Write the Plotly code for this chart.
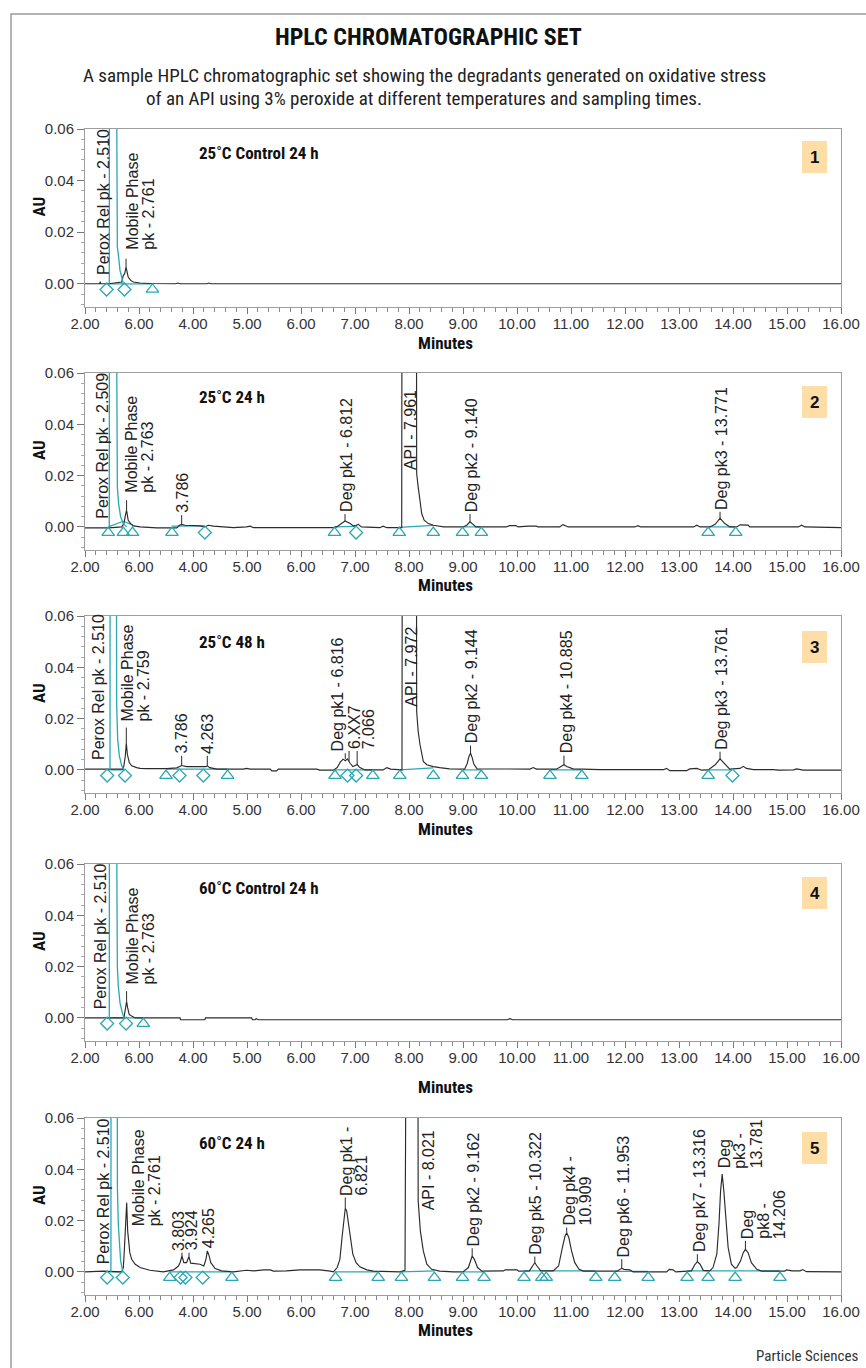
import plotly.graph_objects as go

W, H = 866, 1368

# ---------------- DATA ----------------
x_tick_vals = [2, 3, 4, 5, 6, 7, 8, 9, 10, 11, 12, 13, 14, 15, 16]
x_tick_text = ["2.00", "6.00", "4.00", "5.00", "6.00", "7.00", "8.00", "9.00",
               "10.00", "11.00", "12.00", "13.00", "14.00", "15.00", "16.00"]
y_tick_vals = [0.0, 0.02, 0.04, 0.06]
y_tick_text = ["0.00", "0.02", "0.04", "0.06"]

panel_titles = ["25˚C Control 24 h", "25˚C 24 h", "25˚C 48 h", "60˚C Control 24 h", "60˚C 24 h"]
panel_numbers = ["1", "2", "3", "4", "5"]

# chromatogram traces: (minutes, AU)
p1_trace = [(2.00, 0), (2.27, 0), (2.28, 0.0008), (2.29, 0), (2.44, 0), (2.68, 0.0007), (2.71, 0.0033),
            (2.735, 0.0039), (2.76, 0.0065), (2.78, 0.0039), (2.80, 0.0026), (2.846, 0.0013), (2.895, 0.0007),
            (3.02, 0.0003), (3.20, 0.0001), (3.68, 0), (3.72, 0.0003), (3.76, 0), (4.26, 0), (4.29, 0.0003),
            (4.33, 0), (16.00, 0)]
p2_trace = [(2.00, -0.0004), (2.34, -0.0004), (2.44, -0.0004), (2.68, 0), (2.72, 0.0013), (2.755, 0.0052),
            (2.77, 0.0065), (2.80, 0.0026), (2.846, 0.0013), (2.895, 0.0004), (3.02, 0), (3.33, -0.0004),
            (3.70, -0.0004), (3.75, 0.00065), (3.79, 0.001), (3.85, 0.00065), (4.13, 0.0004), (4.22, 0),
            (4.28, 0.00065), (4.38, 0.0003), (4.75, -0.0003), (4.99, 0), (5.06, 0.0003), (5.12, -0.0003),
            (6.60, -0.0003), (6.66, 0), (6.72, 0.001), (6.815, 0.0023), (6.91, 0.0013), (6.97, 0.0004),
            (7.02, 0.0006), (7.06, 0.001), (7.12, 0), (7.46, -0.0003), (7.52, 0.0003), (7.59, -0.0003),
            (7.865, -0.0003), (7.87, 0.09), (8.138, 0.09), (8.142, 0.0208), (8.17, 0.0156), (8.204, 0.009),
            (8.235, 0.0052), (8.28, 0.0026), (8.36, 0.0013), (8.45, 0.00065), (8.51, 0.0004), (8.64, 0),
            (9.00, 0), (9.07, 0.00065), (9.13, 0.002), (9.18, 0.001), (9.24, 0), (9.80, 0), (9.86, 0.0005),
            (9.98, 0.0005), (10.02, 0), (10.21, 0.0003), (10.36, 0.0003), (10.39, 0), (10.79, 0),
            (10.85, 0.0009), (10.95, 0), (12.18, 0), (12.24, 0.0005), (12.29, 0), (13.27, 0), (13.33, 0.00065),
            (13.39, 0), (13.57, 0), (13.67, 0.001), (13.76, 0.0033), (13.85, 0.0013), (13.94, 0), (14.07, 0),
            (14.13, 0.0008), (14.28, 0.0007), (14.31, 0), (15.21, 0), (15.27, 0.00065), (15.33, 0),
            (16.00, -0.0003)]
p3_trace = [(2.00, 0.0003), (2.44, 0.0003), (2.70, 0.0003), (2.72, 0.0016), (2.747, 0.0055), (2.765, 0.0105),
            (2.784, 0.0061), (2.82, 0.0029), (2.864, 0.0016), (2.957, 0.0009), (3.02, 0.0006), (3.14, 0.0005),
            (3.51, 0.0005), (3.70, 0.0008), (3.76, 0.0014), (3.79, 0.0017), (3.88, 0.0013), (4.13, 0.0012),
            (4.24, 0.0013), (4.265, 0.0016), (4.31, 0.0009), (4.44, 0.0003), (4.93, 0.0003), (4.99, 0.0006),
            (5.06, 0.0003), (5.43, 0.0003), (5.46, -0.0004), (5.55, -0.0004), (5.58, 0.0003), (6.29, 0.0003),
            (6.35, -0.0001), (6.60, -0.0001), (6.67, 0.0009), (6.73, 0.0031), (6.78, 0.0042), (6.82, 0.0036),
            (6.86, 0.0043), (6.91, 0.0026), (6.96, 0.0013), (7.006, 0.0017), (7.04, 0.0021), (7.09, 0.0009),
            (7.185, 0), (7.52, 0), (7.59, 0.0009), (7.66, 0.0003), (7.87, 0), (7.875, 0.09), (8.138, 0.09),
            (8.142, 0.0228), (8.17, 0.015), (8.204, 0.0098), (8.235, 0.0059), (8.265, 0.0033), (8.33, 0.002),
            (8.45, 0.0013), (8.57, 0.0009), (8.75, 0.0004), (9.03, 0.0003), (9.08, 0.0026), (9.11, 0.0052),
            (9.14, 0.0065), (9.17, 0.0048), (9.20, 0.0023), (9.26, 0.0004), (10.24, 0.0003), (10.30, 0.0009),
            (10.36, 0.0003), (10.73, 0.0003), (10.83, 0.0013), (10.87, 0.002), (10.92, 0.0013), (11.04, 0.0004),
            (11.54, 0.0001), (12.71, 0.0001), (12.77, 0.0006), (12.83, -0.0003), (13.14, -0.0003),
            (13.20, 0.0004), (13.33, 0.0006), (13.42, -0.0001), (13.54, 0), (13.67, 0.002), (13.76, 0.0043),
            (13.85, 0.0022), (13.94, 0.0003), (14.13, 0.0006), (14.19, 0.0014), (14.25, 0.0006),
            (14.38, 0.0001), (14.75, 0.0001), (14.84, -0.0001), (15.12, 0), (15.18, 0.0004), (15.30, -0.0001),
            (16.00, -0.0001)]
p4_trace = [(2.00, 0), (2.44, 0), (2.72, 0), (2.747, 0.0033), (2.77, 0.0065), (2.79, 0.0039), (2.82, 0.0013),
            (2.864, 0.0007), (2.93, 0), (3.76, 0), (3.77, -0.0007), (4.22, -0.0007), (4.23, 0), (5.086, 0),
            (5.10, -0.0007), (5.15, -0.0007), (5.17, -0.0003), (5.21, -0.0007), (9.82, -0.0007),
            (9.87, -0.0003), (9.92, -0.0007), (16.00, -0.0007)]
p5_trace = [(2.00, 0), (2.34, 0.0003), (2.68, 0), (2.71, 0.0017), (2.728, 0.0082), (2.747, 0.0147),
            (2.76, 0.0212), (2.772, 0.027), (2.79, 0.016), (2.81, 0.0108), (2.83, 0.0075), (2.864, 0.0049),
            (2.93, 0.003), (3.02, 0.0017), (3.20, 0.00065), (3.45, 0), (3.64, 0.0008), (3.73, 0.0023),
            (3.76, 0.0036), (3.796, 0.0062), (3.83, 0.0036), (3.88, 0.0036), (3.926, 0.006), (3.957, 0.0034),
            (4.04, 0.0033), (4.13, 0.003), (4.20, 0.0023), (4.24, 0.0049), (4.265, 0.0082), (4.29, 0.0069),
            (4.33, 0.0036), (4.41, 0.0013), (4.53, 0.0004), (4.75, 0), (4.99, 0.00065), (5.12, 0.0004),
            (5.31, 0.0008), (5.43, 0.0008), (5.49, 0.0003), (5.73, 0.0004), (5.98, 0.0008), (6.35, 0.0008),
            (6.54, 0.0003), (6.60, 0), (6.67, 0.0017), (6.72, 0.0049), (6.76, 0.0134), (6.80, 0.0225),
            (6.82, 0.0248), (6.846, 0.0238), (6.88, 0.0186), (6.91, 0.0127), (6.96, 0.0069), (7.02, 0.0036),
            (7.09, 0.002), (7.22, 0.0008), (7.34, 0.0003), (7.83, 0), (7.926, 0.0006), (7.944, 0.09),
            (8.165, 0.09), (8.17, 0.0277), (8.21, 0.016), (8.265, 0.0082), (8.33, 0.003), (8.42, 0.001),
            (8.57, 0.0003), (8.82, 0), (9.00, 0), (9.10, 0.0017), (9.14, 0.0049), (9.17, 0.0062), (9.21, 0.0049),
            (9.27, 0.0017), (9.35, 0.0003), (9.75, 0.0004), (9.78, 0.0008), (10.00, 0.0008), (10.03, 0.0003),
            (10.23, 0.0004), (10.30, 0.0027), (10.33, 0.0036), (10.37, 0.0023), (10.44, 0.0004),
            (10.67, 0.0004), (10.77, 0.0023), (10.84, 0.0095), (10.89, 0.014), (10.92, 0.0153),
            (10.96, 0.0134), (11.01, 0.0082), (11.07, 0.0036), (11.15, 0.001), (11.23, 0.0003),
            (11.85, 0.0003), (11.90, 0.001), (11.94, 0.0014), (11.98, 0.001), (12.09, 0.0008), (12.15, 0),
            (12.77, 0), (12.82, 0.001), (12.89, 0.0008), (12.94, 0), (13.23, 0.0004), (13.29, 0.0027),
            (13.34, 0.004), (13.39, 0.003), (13.45, 0.0006), (13.57, 0.0004), (13.63, 0.0017), (13.70, 0.0069),
            (13.74, 0.0186), (13.77, 0.0316), (13.80, 0.0381), (13.83, 0.0316), (13.87, 0.0186),
            (13.91, 0.0095), (13.97, 0.003), (14.04, 0.0014), (14.07, 0.0017), (14.14, 0.0043),
            (14.19, 0.0075), (14.23, 0.0088), (14.28, 0.0075), (14.34, 0.0036), (14.44, 0.001),
            (14.53, 0.0003), (14.96, 0.0003), (14.99, 0.0008), (15.09, 0.0004), (15.24, 0.0004),
            (15.29, 0.0009), (15.36, 0.0001), (16.00, 0)]

# integrated peroxide peak (teal)
p1_teal_peak = [(2.45, 0), (2.452, 0.09), (2.582, 0.09), (2.586, 0.031), (2.592, 0.029), (2.599, 0.0143),
                (2.623, 0.0104), (2.648, 0.0052), (2.679, 0.0026), (2.71, 0)]
p2_teal_peak = [(2.45, 0), (2.452, 0.09), (2.582, 0.09), (2.586, 0.031), (2.599, 0.0156), (2.623, 0.009),
                (2.66, 0.0039), (2.71, 0.0013), (2.77, 0)]
p3_teal_peak = [(2.463, 0), (2.465, 0.09), (2.582, 0.09), (2.586, 0.026), (2.605, 0.012), (2.636, 0.0055),
                (2.68, 0.0016), (2.72, 0)]
p4_teal_peak = [(2.45, 0), (2.452, 0.09), (2.582, 0.09), (2.586, 0.0306), (2.599, 0.020), (2.617, 0.0124),
                (2.648, 0.0059), (2.685, 0.0026), (2.72, 0)]
p5_teal_peak = [(2.48, 0), (2.482, 0.09), (2.597, 0.09), (2.60, 0.033), (2.617, 0.0186), (2.636, 0.0095),
                (2.66, 0.0043), (2.70, 0)]

# integration baselines: (start min, end min, start AU, end AU)
p1_baselines = [(2.40, 3.25, 0, 0)]
p2_baselines = [(2.43, 2.71, 0, 0.0022), (2.71, 2.88, 0.0022, 0.0008), (3.61, 4.22, 0.0003, 0.0004),
                (6.62, 7.02, 0, 0.0002), (7.82, 8.45, -0.0002, 0.0006), (8.99, 9.34, 0, 0), (13.54, 14.05, 0, 0)]
p3_baselines = [(2.41, 2.74, 0, 0), (3.50, 4.64, 0.0003, 0.0003), (6.63, 7.33, 0, 0), (7.83, 8.45, 0, 0.0008),
                (8.99, 9.34, 0, 0), (10.61, 11.20, 0, 0), (13.54, 13.99, 0, 0)]
p4_baselines = [(2.41, 3.08, 0, 0)]
p5_baselines = [(2.41, 2.70, 0, 0), (3.57, 4.72, 0, 0), (6.64, 7.43, 0, 0), (7.86, 8.47, 0, 0.0004),
                (8.99, 9.39, 0, 0), (10.13, 11.46, 0.0004, 0.0004), (11.81, 12.43, 0.0002, 0.0002),
                (13.15, 14.87, 0.0004, 0.0004)]

# peak start/end markers (minutes)
p1_diamonds = [2.40, 2.73]
p1_triangles = [3.25]
p2_diamonds = [4.22, 7.02]
p2_triangles = [2.43, 2.71, 2.88, 3.61, 6.62, 7.82, 8.45, 8.99, 9.34, 13.54, 14.05]
p3_diamonds = [2.41, 2.74, 3.75, 4.19, 6.86, 7.02, 13.99]
p3_triangles = [3.50, 4.64, 6.63, 7.33, 7.83, 8.45, 8.99, 9.34, 10.61, 11.20, 13.54]
p4_diamonds = [2.41, 2.76]
p4_triangles = [3.08]
p5_diamonds = [2.41, 2.70, 3.77, 3.86, 4.18]
p5_triangles = [3.57, 4.72, 6.64, 7.43, 7.86, 8.47, 8.99, 9.39, 10.13, 10.46, 10.54, 11.46, 11.81, 12.43,
                13.15, 13.54, 14.04, 14.87]

# peak labels: (text, minutes, AU at label foot)
p1_labels = [("Perox Rel pk - 2.510", 2.33, 0.0026), ("Mobile Phase<br>pk - 2.761", 3.02, 0.0123)]
p2_labels = [("Perox Rel pk - 2.509", 2.31, 0.0023), ("Mobile Phase<br>pk - 2.763", 3.02, 0.0124),
             ("3.786", 3.79, 0.0046), ("Deg pk1 - 6.812", 6.83, 0.0050), ("API - 7.961", 8.02, 0.0214),
             ("Deg pk2 - 9.140", 9.15, 0.0050), ("Deg pk3 - 13.771", 13.79, 0.0059)]
p3_labels = [("Perox Rel pk - 2.510", 2.25, 0.0029), ("Mobile Phase<br>pk - 2.759", 2.94, 0.0182),
             ("3.786", 3.79, 0.0055), ("4.263", 4.28, 0.0055), ("Deg pk1 - 6.816", 6.67, 0.0065),
             ("6.XX7", 7.00, 0.0074), ("7.066", 7.265, 0.0074), ("API - 7.972", 8.03, 0.0237),
             ("Deg pk2 - 9.144", 9.16, 0.0095), ("Deg pk4 - 10.885", 10.91, 0.0056),
             ("Deg pk3 - 13.761", 13.79, 0.0071)]
p4_labels = [("Perox Rel pk - 2.510", 2.28, 0.0026), ("Mobile Phase<br>pk - 2.763", 3.03, 0.0123)]
p5_labels = [("Perox Rel pk - 2.510", 2.34, 0.0023), ("Mobile Phase<br>pk - 2.761", 3.14, 0.017),
             ("3.803", 3.73, 0.0075), ("3.924", 3.976, 0.0075), ("4.265", 4.28, 0.0085),
             ("Deg pk1 -<br>6.821", 6.98, 0.029), ("API - 8.021", 8.36, 0.0234),
             ("Deg pk2 - 9.162", 9.19, 0.0092), ("Deg pk5 - 10.322", 10.33, 0.006),
             ("Deg pk4 -<br>10.909", 11.12, 0.0173), ("Deg pk6 - 11.953", 11.97, 0.005),
             ("Deg pk7 - 13.316", 13.375, 0.0069), ("Deg<br>pk3 -<br>13.781", 14.13, 0.0394),
             ("Deg<br>pk8 -<br>14.206", 14.57, 0.0121)]

# label leader lines: (minutes, AU apex, AU label foot)
p1_leaders = [(2.76, 0.0065, 0.0097)]
p2_leaders = [(2.77, 0.0065, 0.0104), (3.79, 0.001, 0.0046), (6.815, 0.0023, 0.005), (9.13, 0.002, 0.005),
              (13.76, 0.0033, 0.0059)]
p3_leaders = [(2.765, 0.0105, 0.0165), (3.79, 0.0017, 0.0055), (4.265, 0.0016, 0.0055), (6.82, 0.0043, 0.0065),
              (6.89, 0.0035, 0.0074), (7.04, 0.0021, 0.0074), (9.14, 0.0065, 0.0095), (10.87, 0.002, 0.0056),
              (13.76, 0.0043, 0.0071)]
p4_leaders = [(2.77, 0.0065, 0.0104)]
p5_leaders = [(3.796, 0.0062, 0.0075), (3.926, 0.006, 0.0075), (6.82, 0.0248, 0.029), (9.17, 0.0062, 0.0092),
              (10.33, 0.0036, 0.006), (10.92, 0.0153, 0.0173), (11.94, 0.0014, 0.005), (13.34, 0.004, 0.0069),
              (14.23, 0.0088, 0.0121)]

panels = [
    dict(trace=p1_trace, teal=p1_teal_peak, base=p1_baselines, dia=p1_diamonds, tri=p1_triangles,
         labels=p1_labels, leaders=p1_leaders),
    dict(trace=p2_trace, teal=p2_teal_peak, base=p2_baselines, dia=p2_diamonds, tri=p2_triangles,
         labels=p2_labels, leaders=p2_leaders),
    dict(trace=p3_trace, teal=p3_teal_peak, base=p3_baselines, dia=p3_diamonds, tri=p3_triangles,
         labels=p3_labels, leaders=p3_leaders),
    dict(trace=p4_trace, teal=p4_teal_peak, base=p4_baselines, dia=p4_diamonds, tri=p4_triangles,
         labels=p4_labels, leaders=p4_leaders),
    dict(trace=p5_trace, teal=p5_teal_peak, base=p5_baselines, dia=p5_diamonds, tri=p5_triangles,
         labels=p5_labels, leaders=p5_leaders),
]

# ---------------- LAYOUT / STYLE ----------------
COND = "Liberation Sans Narrow, Roboto Condensed, DejaVu Sans Condensed, Arial Narrow, sans-serif"
SANS = "Liberation Sans, Arial, Helvetica, sans-serif"
BLACK = "#2b2b2b"
TEAL = "#2aa7b2"
FRAME = "#9e9e9e"
MARK_AU = -0.0022
LABEL_SIZE = 16
LINE_GAP = 16  # px between stacked label lines

plot_left, plot_right = 85, 841
panel_px = [(129, 307), (373, 550), (616, 793), (864, 1041), (1118, 1295)]
title_py = [153, 397, 642, 888, 1143]
box_py = [(141, 173), (386, 418), (631, 663), (877, 909), (1132, 1164)]
minutes_py = [343, 585, 829, 1087, 1330]


def px(x):
    return x / W


def py(y):
    return 1 - y / H


fig = go.Figure()
annotations = []
shapes = []

for i, p in enumerate(panels):
    n = i + 1
    xa = "x" if n == 1 else f"x{n}"
    ya = "y" if n == 1 else f"y{n}"

    # baselines (teal)
    bx, by = [], []
    for t0, t1, a0, a1 in p["base"]:
        bx += [t0, t1, None]
        by += [a0, a1, None]
    fig.add_trace(go.Scatter(x=bx, y=by, mode="lines", line=dict(color=TEAL, width=1.2),
                             xaxis=xa, yaxis=ya, showlegend=False, hoverinfo="skip"))
    # chromatogram (black)
    tx = [t for t, a in p["trace"]]
    ty = [a for t, a in p["trace"]]
    fig.add_trace(go.Scatter(x=tx, y=ty, mode="lines", line=dict(color=BLACK, width=1.15),
                             xaxis=xa, yaxis=ya, showlegend=False))
    # teal peroxide peak
    fig.add_trace(go.Scatter(x=[t for t, a in p["teal"]], y=[a for t, a in p["teal"]], mode="lines",
                             line=dict(color=TEAL, width=1.3), xaxis=xa, yaxis=ya, showlegend=False))
    # leaders
    lx, ly = [], []
    for t, a0, a1 in p["leaders"]:
        lx += [t, t, None]
        ly += [a0, a1, None]
    fig.add_trace(go.Scatter(x=lx, y=ly, mode="lines", line=dict(color=BLACK, width=1),
                             xaxis=xa, yaxis=ya, showlegend=False, hoverinfo="skip"))
    # markers
    fig.add_trace(go.Scatter(x=p["dia"], y=[MARK_AU] * len(p["dia"]), mode="markers",
                             marker=dict(symbol="diamond-open", size=10, color=TEAL, line=dict(width=1.3)),
                             xaxis=xa, yaxis=ya, showlegend=False, cliponaxis=False))
    fig.add_trace(go.Scatter(x=p["tri"], y=[MARK_AU] * len(p["tri"]), mode="markers",
                             marker=dict(symbol="triangle-up-open", size=11, color=TEAL, line=dict(width=1.3)),
                             xaxis=xa, yaxis=ya, showlegend=False, cliponaxis=False))

    for text, t, a in p["labels"]:
        lines = text.split("<br>")
        nl = len(lines)
        for k, line in enumerate(lines):
            annotations.append(dict(x=t, y=a, xref=xa, yref=ya, text=line, textangle=-90, showarrow=False,
                                    xanchor="center", yanchor="bottom",
                                    xshift=(k - (nl - 1) / 2) * LINE_GAP,
                                    font=dict(family=SANS, size=LABEL_SIZE, color="#222")))

    top, bot = panel_px[i]
    fig.update_layout(**{
        ("xaxis" if n == 1 else f"xaxis{n}"): dict(
            domain=[px(plot_left), px(plot_right)], range=[2, 16], anchor=ya, automargin=False,
            tickmode="array", tickvals=x_tick_vals, ticktext=x_tick_text,
            ticks="outside", ticklen=6, tickcolor="#777", tickwidth=1, ticklabelstandoff=-3,
            minor=dict(tickmode="linear", tick0=2, dtick=0.2, ticks="outside", ticklen=4, tickcolor="#888"),
            showline=True, mirror=True, linecolor=FRAME, linewidth=1,
            showgrid=False, zeroline=False,
            tickfont=dict(family=SANS, size=15, color="#333")),
        ("yaxis" if n == 1 else f"yaxis{n}"): dict(
            domain=[py(bot), py(top)], range=[-0.009, 0.06], anchor=xa, automargin=False,
            tickmode="array", tickvals=y_tick_vals, ticktext=y_tick_text,
            ticks="outside", ticklen=7, tickcolor="#777", tickwidth=1,
            minor=dict(tickmode="linear", tick0=0, dtick=0.004, ticks="outside", ticklen=3, tickcolor="#aaa"),
            showline=True, mirror=True, linecolor=FRAME, linewidth=1,
            showgrid=False, zeroline=False,
            tickfont=dict(family=SANS, size=15, color="#333")),
    })

    # AU title
    annotations.append(dict(x=px(39), y=0.03, xref="paper", yref=ya, text="<b>AU</b>", textangle=-90,
                            showarrow=False, xanchor="center", yanchor="middle",
                            font=dict(family=COND, size=17, color="#111")))
    # Minutes title
    annotations.append(dict(x=px(445), y=py(minutes_py[i]), xref="paper", yref="paper", text="<b>Minutes</b>",
                            showarrow=False, xanchor="center", yanchor="middle",
                            font=dict(family=COND, size=17, color="#111")))
    # panel title
    annotations.append(dict(x=px(197), y=py(title_py[i]), xref="paper", yref="paper",
                            text=f"<b>{panel_titles[i]}</b>", showarrow=False, xanchor="left",
                            yanchor="middle", font=dict(family=COND, size=17, color="#111")))
    # number box
    b0, b1 = box_py[i]
    shapes.append(dict(type="rect", xref="paper", yref="paper", x0=px(802), x1=px(827), y0=py(b1), y1=py(b0),
                       fillcolor="#fedda6", line=dict(width=0), layer="below"))
    annotations.append(dict(x=px(814.5), y=py((b0 + b1) / 2), xref="paper", yref="paper",
                            text=f"<b>{panel_numbers[i]}</b>", showarrow=False, xanchor="center",
                            yanchor="middle", font=dict(family=SANS, size=17, color="#111")))

# outer frame
shapes.append(dict(type="path", xref="paper", yref="paper",
                   path=f"M {px(11)},0 L {px(11)},{py(14)} L 1,{py(14)}",
                   line=dict(color="#9a9a9a", width=1.5)))

annotations.append(dict(x=px(428), y=py(37), xref="paper", yref="paper", text="<b>HPLC CHROMATOGRAPHIC SET</b>",
                        showarrow=False, xanchor="center", yanchor="middle",
                        font=dict(family=COND, size=24, color="#111")))
annotations.append(dict(x=px(424), y=py(75), xref="paper", yref="paper",
                        text="A sample HPLC chromatographic set showing the degradants generated on oxidative stress",
                        showarrow=False, xanchor="center", yanchor="middle",
                        font=dict(family=COND, size=19, color="#222")))
annotations.append(dict(x=px(424), y=py(98), xref="paper", yref="paper",
                        text="of an API using 3% peroxide at different temperatures and sampling times.",
                        showarrow=False, xanchor="center", yanchor="middle",
                        font=dict(family=COND, size=19, color="#222")))
annotations.append(dict(x=px(860), y=py(1356), xref="paper", yref="paper", text="Particle Sciences",
                        showarrow=False, xanchor="right", yanchor="middle",
                        font=dict(family=COND, size=15, color="#333")))

fig.update_layout(width=W, height=H, margin=dict(l=0, r=0, t=0, b=0, autoexpand=False),
                  paper_bgcolor="white", plot_bgcolor="white", annotations=annotations, shapes=shapes,
                  showlegend=False)

fig.write_html("out.html", config={"displayModeBar": False},
               post_script="document.body.style.margin='0';document.body.style.overflow='hidden';")
